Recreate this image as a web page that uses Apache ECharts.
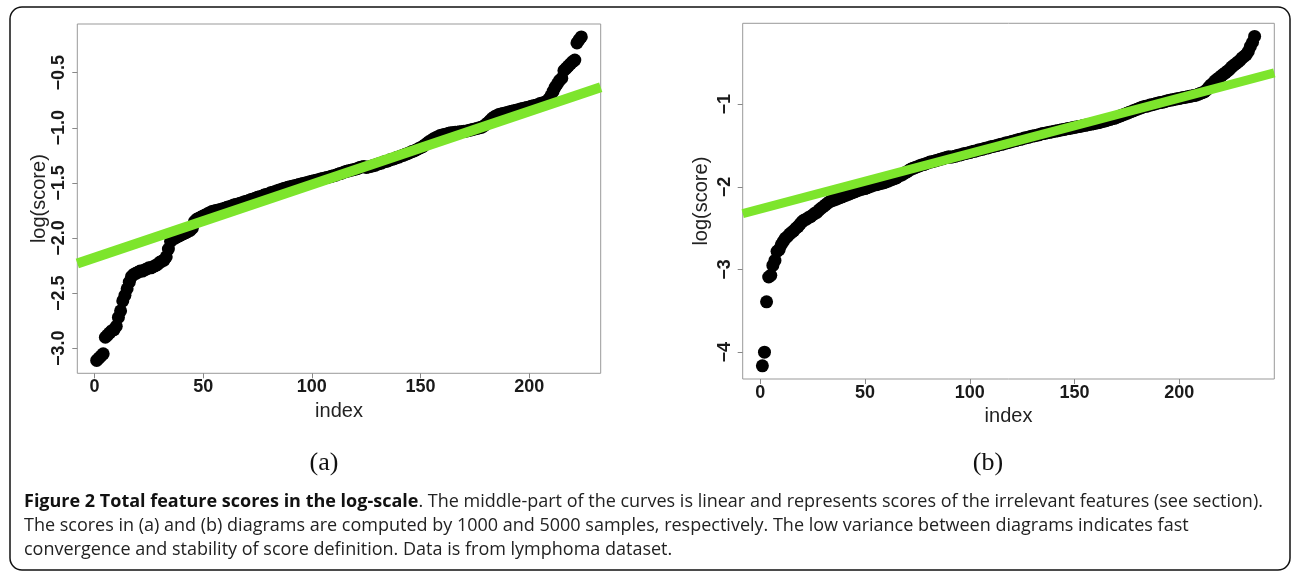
<!DOCTYPE html>
<html>
<head>
<meta charset="utf-8">
<script src="https://cdn.jsdelivr.net/npm/echarts@6/dist/echarts.min.js"></script>
<style>
html,body{margin:0;padding:0;background:#fff;}
#chart{width:1293px;height:576px;}
</style>
</head>
<body>
<div id="chart"></div>
<script>
// ---- data ----
// panel (a): sorted log(score) of 224 features
const scoresA = [
-3.11,-3.09,-3.07,-3.05,-2.90,-2.88,-2.86,-2.84,-2.83,-2.80,
-2.72,-2.66,-2.57,-2.52,-2.46,-2.40,-2.35,
-2.33,-2.32,-2.31,-2.30,-2.30,-2.29,-2.28,-2.27,-2.27,-2.26,-2.25,-2.24,-2.22,-2.21,-2.20,
-2.17,-2.10,-2.03,
-2.01,-2.00,-1.99,-1.98,-1.97,-1.96,-1.95,-1.94,-1.93,-1.91,
-1.85,-1.83,-1.82,-1.81,-1.80,-1.79,-1.78,-1.77,-1.76,
-1.755,-1.75,-1.745,-1.74,-1.735,-1.73,-1.72,-1.715,-1.71,-1.70,
-1.695,-1.69,-1.685,-1.68,-1.67,-1.665,-1.66,-1.65,-1.645,-1.64,
-1.63,-1.625,-1.62,-1.61,-1.605,-1.60,-1.59,-1.585,-1.58,-1.57,
-1.565,-1.56,-1.55,-1.545,-1.54,-1.535,-1.53,-1.525,-1.52,-1.515,
-1.51,-1.505,-1.50,-1.495,-1.49,-1.485,-1.48,-1.475,-1.47,-1.465,
-1.46,-1.455,-1.45,-1.445,-1.44,-1.435,-1.43,-1.42,-1.415,-1.41,
-1.40,-1.395,-1.39,-1.385,-1.38,-1.375,-1.37,-1.36,-1.355,-1.35,
-1.36,-1.355,-1.35,-1.345,-1.34,-1.33,-1.325,-1.32,-1.31,-1.305,
-1.30,-1.29,-1.285,-1.28,-1.27,-1.265,-1.255,-1.25,-1.24,-1.235,
-1.225,-1.215,-1.21,-1.20,-1.19,-1.18,-1.17,-1.155,-1.14,-1.125,
-1.115,-1.10,-1.09,-1.08,-1.07,-1.065,-1.06,-1.055,-1.05,-1.045,
-1.045,-1.04,-1.04,-1.035,-1.035,-1.03,-1.03,-1.025,-1.02,-1.015,
-1.01,-1.005,-1.00,-0.995,-0.985,-0.97,-0.955,-0.935,-0.915,-0.90,
-0.89,-0.88,-0.875,-0.87,-0.865,-0.86,-0.855,-0.85,-0.845,-0.84,
-0.835,-0.83,-0.825,-0.82,-0.815,-0.81,-0.805,-0.80,-0.795,-0.79,
-0.78,-0.775,-0.77,-0.76,-0.74,-0.71,
-0.67,-0.63,-0.60,-0.57,-0.55,
-0.48,-0.46,-0.44,-0.42,-0.40,-0.385,
-0.23,-0.20,-0.175
];
// panel (b): sorted log(score) of 236 features
const scoresB = [
-4.165,-4.00,-3.39,-3.09,-3.07,-2.95,-2.89,-2.78,-2.76,-2.70,
-2.66,-2.62,-2.60,-2.57,-2.55,-2.53,-2.50,-2.48,-2.45,-2.42,
-2.40,-2.39,-2.37,-2.36,-2.34,-2.32,-2.31,-2.28,-2.26,-2.24,
-2.22,-2.20,-2.18,-2.17,-2.16,-2.15,-2.14,-2.13,-2.12,-2.11,
-2.10,-2.09,-2.08,-2.07,-2.06,-2.05,-2.04,-2.03,-2.025,-2.02,
-2.01,-2.00,-1.99,-1.98,-1.975,-1.97,-1.96,-1.955,-1.95,-1.94,
-1.93,-1.92,-1.91,-1.90,-1.89,-1.87,-1.86,-1.85,-1.83,-1.82,
-1.80,-1.785,-1.775,-1.765,-1.755,-1.745,-1.735,-1.73,-1.72,-1.71,
-1.70,-1.695,-1.69,-1.68,-1.675,-1.665,-1.66,-1.65,-1.645,-1.635,
-1.64,-1.635,-1.63,-1.62,-1.615,-1.61,-1.60,-1.595,-1.59,-1.585,
-1.575,-1.57,-1.565,-1.555,-1.55,-1.545,-1.535,-1.53,-1.525,-1.515,
-1.51,-1.505,-1.50,-1.49,-1.485,-1.48,-1.47,-1.465,-1.46,-1.45,
-1.445,-1.44,-1.43,-1.425,-1.42,-1.41,-1.405,-1.40,-1.39,-1.385,
-1.38,-1.375,-1.37,-1.36,-1.355,-1.35,-1.345,-1.34,-1.335,-1.33,
-1.325,-1.32,-1.315,-1.31,-1.305,-1.30,-1.295,-1.29,-1.285,-1.28,
-1.275,-1.27,-1.265,-1.26,-1.255,-1.25,-1.245,-1.24,-1.235,-1.23,
-1.225,-1.22,-1.21,-1.205,-1.20,-1.19,-1.185,-1.175,-1.17,-1.16,
-1.15,-1.14,-1.13,-1.12,-1.11,-1.10,-1.09,-1.08,-1.07,-1.06,
-1.05,-1.04,-1.03,-1.025,-1.02,-1.01,-1.005,-1.00,-0.99,-0.985,
-0.98,-0.975,-0.97,-0.96,-0.955,-0.95,-0.945,-0.94,-0.935,-0.93,
-0.925,-0.92,-0.915,-0.91,-0.905,-0.90,-0.895,-0.89,-0.88,-0.87,
-0.86,-0.85,-0.83,-0.80,-0.77,-0.75,-0.72,-0.70,-0.68,-0.66,
-0.64,-0.62,-0.60,-0.58,-0.55,-0.53,-0.51,-0.49,-0.47,-0.44,
-0.42,-0.40,-0.36,-0.30,-0.25,-0.18
];
// green reference lines (end points as read at the plot edges)
const fitA_x = [-7.92, 232.92];
const fitA_y = [-2.230, -0.632];
const fitB_x = [-8.4, 245.4];
const fitB_y = [-2.324, -0.621];
// axis limits and ticks
const xRangeA = [-7.92, 232.92];
const yRangeA = [-3.227, -0.058];
const xRangeB = [-8.4, 245.4];
const yRangeB = [-4.324, -0.021];
const xTicks = [0, 50, 100, 150, 200];
const yTicksA = [-3.0, -2.5, -2.0, -1.5, -1.0, -0.5];
const yTicksB = [-4, -3, -2, -1];
const panelLabels = ['(a)', '(b)'];
const captionBold = 'Figure 2 Total feature scores in the log-scale';
const captionLines = [
  '. The middle-part of the curves is linear and represents scores of the irrelevant features (see section).',
  'The scores in (a) and (b) diagrams are computed by 1000 and 5000 samples, respectively. The low variance between diagrams indicates fast',
  'convergence and stability of score definition. Data is from lymphoma dataset.'
];

// ---- chart ----
const chart = echarts.init(document.getElementById('chart'), null, {renderer: 'canvas'});
const FONT = '"Liberation Sans", Arial, Helvetica, sans-serif';
const CAPFONT = '"Open Sans", "Noto Sans", sans-serif';
const minus = s => s.replace('-', '\u2212');
const fmtA = v => minus(Number(v).toFixed(1));
const fmtB = v => minus(Number(v).toFixed(0));

function xAxisCfg(gridIndex, range) {
  return {
    type: 'value', gridIndex, min: range[0], max: range[1],
    name: 'index', nameLocation: 'middle', nameGap: 22,
    nameTextStyle: {fontFamily: FONT, fontSize: 20, color: '#222'},
    axisLine: {show: false, onZero: false},
    axisTick: {show: true, customValues: xTicks, length: 5, lineStyle: {color: '#888', width: 1}},
    axisLabel: {customValues: xTicks, margin: 5, fontFamily: FONT, fontSize: 18, fontWeight: 'bold', color: '#1a1a1a'},
    splitLine: {show: false}
  };
}
function yAxisCfg(gridIndex, range, ticks, fmt, gap) {
  return {
    type: 'value', gridIndex, min: range[0], max: range[1],
    name: 'log(score)', nameLocation: 'middle', nameGap: gap, nameRotate: 90,
    nameTextStyle: {fontFamily: FONT, fontSize: 20, color: '#222'},
    axisLine: {show: false, onZero: false},
    axisTick: {show: true, customValues: ticks, length: 5, lineStyle: {color: '#888', width: 1}},
    axisLabel: {customValues: ticks, formatter: fmt, rotate: 90, margin: 9, fontFamily: FONT, fontSize: 18, fontWeight: 'bold', color: '#1a1a1a'},
    splitLine: {show: false}
  };
}

const option = {
  animation: false,
  backgroundColor: '#fff',
  grid: [
    {left: 77.3, top: 24, width: 523.4, height: 349.3, show: true, borderColor: '#999', borderWidth: 1, backgroundColor: 'transparent'},
    {left: 742.7, top: 23.3, width: 531.6, height: 355.7, show: true, borderColor: '#999', borderWidth: 1, backgroundColor: 'transparent'}
  ],
  xAxis: [xAxisCfg(0, xRangeA), xAxisCfg(1, xRangeB)],
  yAxis: [yAxisCfg(0, yRangeA, yTicksA, fmtA, 28), yAxisCfg(1, yRangeB, yTicksB, fmtB, 31)],
  series: [
    {type: 'scatter', xAxisIndex: 0, yAxisIndex: 0, symbol: 'circle', symbolSize: 13,
     itemStyle: {color: '#000', opacity: 1}, data: scoresA.map((v, i) => [i + 1, v]), z: 2, silent: true},
    {type: 'line', xAxisIndex: 0, yAxisIndex: 0, showSymbol: false, symbol: 'none',
     lineStyle: {color: '#7de52c', width: 10}, data: fitA_x.map((x, i) => [x, fitA_y[i]]), z: 3, clip: true, silent: true},
    {type: 'scatter', xAxisIndex: 1, yAxisIndex: 1, symbol: 'circle', symbolSize: 13,
     itemStyle: {color: '#000', opacity: 1}, data: scoresB.map((v, i) => [i + 1, v]), z: 2, silent: true},
    {type: 'line', xAxisIndex: 1, yAxisIndex: 1, showSymbol: false, symbol: 'none',
     lineStyle: {color: '#7de52c', width: 9}, data: fitB_x.map((x, i) => [x, fitB_y[i]]), z: 3, clip: true, silent: true}
  ],
  graphic: [
    {type: 'rect', shape: {x: 10, y: 7, width: 1280, height: 563, r: 12},
     style: {fill: 'none', stroke: '#111', lineWidth: 1.5}, z: 0, silent: true},
    {type: 'text', x: 324, y: 463, style: {text: panelLabels[0], font: '26px "Liberation Serif", "Times New Roman", serif', fill: '#111', align: 'center', verticalAlign: 'middle'}},
    {type: 'text', x: 988, y: 463, style: {text: panelLabels[1], font: '26px "Liberation Serif", "Times New Roman", serif', fill: '#111', align: 'center', verticalAlign: 'middle'}},
    {type: 'text', x: 24, y: 502, style: {
      text: '{b|' + captionBold + '}{r|' + captionLines[0] + '}',
      verticalAlign: 'middle',
      rich: {
        b: {fontFamily: CAPFONT, fontSize: 18, fontWeight: 'bold', fill: '#111'},
        r: {fontFamily: CAPFONT, fontSize: 18, fill: '#222'}
      }}},
    {type: 'text', x: 24, y: 526, style: {text: captionLines[1], font: '18px ' + CAPFONT, fill: '#222', verticalAlign: 'middle'}},
    {type: 'text', x: 24, y: 550, style: {text: captionLines[2], font: '18px ' + CAPFONT, fill: '#222', verticalAlign: 'middle'}}
  ]
};
chart.setOption(option);
</script>
</body>
</html>
